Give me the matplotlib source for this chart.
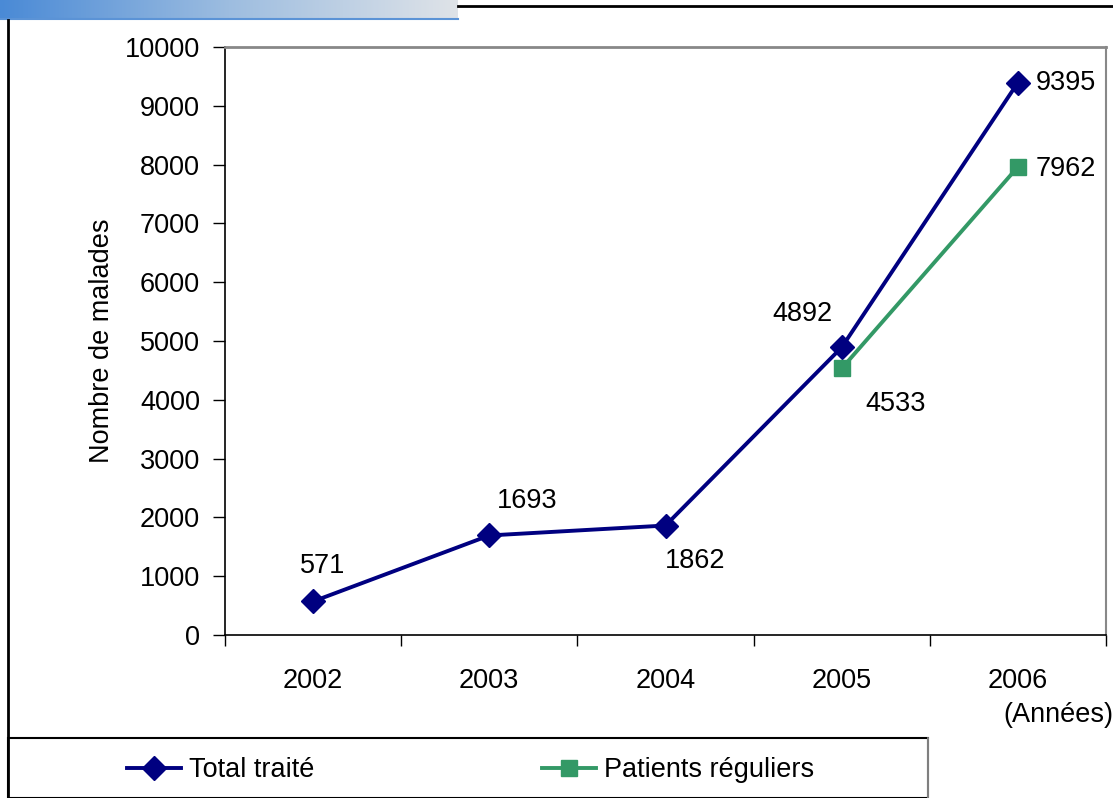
import matplotlib.pyplot as plt
import numpy as np
from matplotlib.patches import Rectangle
from matplotlib.lines import Line2D
from matplotlib.colors import LinearSegmentedColormap

plt.rcParams['font.family'] = ['Liberation Sans', 'DejaVu Sans']

years = ['2002', '2003', '2004', '2005', '2006']
total = [571, 1693, 1862, 4892, 9395]
reguliers = [4533, 7962]
reg_idx = [3, 4]

navy = '#000080'
green = '#339966'

fig = plt.figure(figsize=(11.13, 7.98), dpi=100)
ax = fig.add_axes([225/1113, 1-635/798, 881/1113, 588/798])

x = np.arange(len(years))
ax.plot(x, total, color=navy, lw=2.8, marker='D', ms=12, mfc=navy, mec=navy, label='Total traité')
ax.plot(reg_idx, reguliers, color=green, lw=2.8, marker='s', ms=12, mfc=green, mec=green, label='Patients réguliers')

# value labels
fs = 19.5
offs = {0: (10, 35), 1: (38, 34), 2: (30, -35), 3: (-39, 33)}
for i, v in enumerate(total):
    if i in offs:
        dx, dy = offs[i]
        ax.annotate(str(v), (i, v), xytext=(dx, dy), textcoords='offset pixels',
                    ha='center', va='center', fontsize=fs)
ax.annotate(str(total[4]), (4, total[4]), xytext=(18, 0), textcoords='offset pixels',
            ha='left', va='center', fontsize=fs)
ax.annotate(str(reguliers[0]), (3, reguliers[0]), xytext=(54, -36), textcoords='offset pixels',
            ha='center', va='center', fontsize=fs)
ax.annotate(str(reguliers[1]), (4, reguliers[1]), xytext=(18, -2), textcoords='offset pixels',
            ha='left', va='center', fontsize=fs)

ax.set_xlim(-0.5, 4.5)
ax.set_ylim(0, 10000)
ax.set_yticks(range(0, 10001, 1000))
ax.set_xticks(x)
ax.set_xticklabels(years)
ax.set_xticks(np.arange(-0.5, 4.6, 1), minor=True)
ax.tick_params(axis='x', which='major', length=0, pad=24, labelsize=fs)
ax.tick_params(axis='x', which='minor', length=8, direction='out', width=1)
ax.tick_params(axis='y', length=9, direction='out', width=1, pad=9, labelsize=fs)

ax.spines['top'].set_color('#888888')
ax.spines['right'].set_color('#888888')
ax.spines['top'].set_linewidth(2)
ax.spines['right'].set_linewidth(1.5)
ax.spines['left'].set_linewidth(1.2)
ax.spines['bottom'].set_linewidth(1.2)

ax.set_ylabel('Nombre de malades', fontsize=fs)
ax.yaxis.set_label_coords(-(225-115)/881, 0.5)

fig.text(1058/1113, 1-715/798, '(Années)', ha='center', va='center', fontsize=fs)

# header band and frame lines
grad = np.linspace(0, 1, 256).reshape(1, -1)
hax = fig.add_axes([0, 1-18/798, 458/1113, 18/798])
cmap = LinearSegmentedColormap.from_list('hdr', ['#4a8ad6', '#9dbde0', '#dfe3e8'])
hax.imshow(grad, aspect='auto', cmap=cmap, extent=[0, 1, 0, 1])
hax.axis('off')
fig.add_artist(Line2D([0, 458/1113], [1-19/798]*2, color='#5b93d6', lw=1.5))
fig.add_artist(Line2D([458/1113, 1], [1-6/798]*2, color='black', lw=2))
fig.add_artist(Line2D([8/1113]*2, [0, 1-20/798], color='black', lw=2))

# legend box
fig.add_artist(Rectangle((8/1113, 0), 920/1113, 60/798, fill=False,
                         edgecolor='black', lw=1.5))
fig.add_artist(Line2D([928/1113]*2, [0, 60/798], color='#999999', lw=1.2))
fig.legend(handles=ax.get_lines(), loc='center left', bbox_to_anchor=(116/1113, 1-770/798),
           ncol=2, frameon=False, fontsize=fs, handlelength=2.0, columnspacing=8.4,
           handletextpad=0.3, borderaxespad=0)

fig.savefig('out.png', dpi=100)
